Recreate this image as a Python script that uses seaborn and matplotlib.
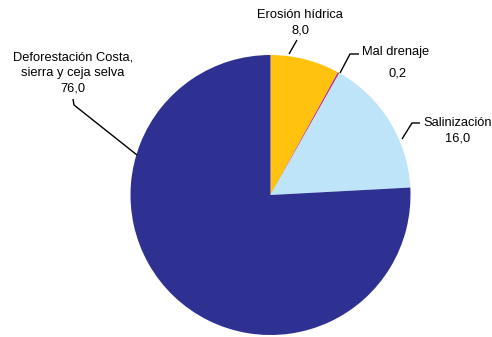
import matplotlib
matplotlib.use("Agg")
import matplotlib.pyplot as plt
import seaborn as sns

sns.set_theme(style="white")
plt.rcParams['font.family'] = ['Liberation Sans', 'DejaVu Sans']

categories = ["Erosión hídrica", "Mal drenaje", "Salinización",
              "Deforestación Costa,\nsierra y ceja selva"]
values = [8.0, 0.2, 16.0, 76.0]
value_labels = ["8,0", "0,2", "16,0", "76,0"]
colors = ["#FFC20F", "#C4327C", "#BDE4F8", "#2E3192"]

W, H = 492, 337
CX, CY, R = 270.5, 195.0, 140.0

fig = plt.figure(figsize=(W / 100, H / 100), dpi=100)
ax = fig.add_axes([0, 0, 1, 1])


def px(x, y):
    """Convert pixel position to axis data units (pie radius = 1)."""
    return (x - CX) / R, (CY - y) / R


ax.pie(values, colors=colors, startangle=90, counterclock=False,
       radius=1.0, wedgeprops=dict(linewidth=0))
ax.set_xlim(px(0, 0)[0], px(W, 0)[0])
ax.set_ylim(px(0, H)[1], px(0, 0)[1])
ax.set_aspect("equal")
ax.axis("off")

fs = 9.3
# label text positions (pixel centres) and leader polylines
label_pos = [(300, 23), (396, 52), (458, 131), (73, 73)]
label_text = [
    f"{categories[0]}\n{value_labels[0]}",
    None,
    f"{categories[2]}\n{value_labels[2]}",
    f"{categories[3]}\n{value_labels[3]}",
]
for i, (pos, txt) in enumerate(zip(label_pos, label_text)):
    if txt is None:
        continue
    x, y = px(*pos)
    ax.text(x, y, txt, ha="center", va="center", fontsize=fs,
            linespacing=1.4, color="black")

# Mal drenaje: name and value on separate rows
x, y = px(396, 52)
ax.text(x, y, categories[1], ha="center", va="center", fontsize=fs, color="black")
x, y = px(398, 74)
ax.text(x, y, value_labels[1], ha="center", va="center", fontsize=fs, color="black")

leaders = [
    [(289, 54), (297, 40)],
    [(340, 73), (350, 54), (359, 54)],
    [(402, 139), (412, 123), (420, 123)],
    [(73, 99), (74, 105), (137, 155)],
]
for pts in leaders:
    xs, ys = zip(*[px(*p) for p in pts])
    ax.plot(xs, ys, color="black", lw=1.0, solid_capstyle="butt")

fig.savefig("out.png", dpi=100, facecolor="white")
